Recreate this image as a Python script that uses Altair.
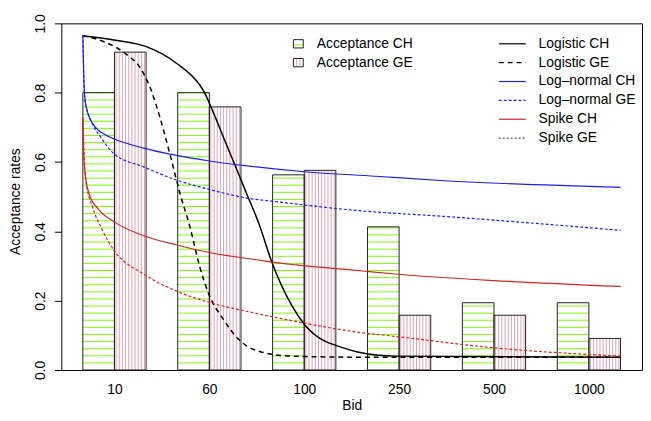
import altair as alt
import pandas as pd
import numpy as np

# ---------------- data ----------------
bids = ["10", "60", "100", "250", "500", "1000"]
accept_ch = [0.800, 0.800, 0.563, 0.413, 0.194, 0.194]
accept_ge = [0.917, 0.759, 0.576, 0.158, 0.158, 0.091]

# fitted curves, x in bar-position units (bars span 1..18)
logistic_ch_x = [1.0, 1.98, 3.03, 3.96, 4.69, 4.85, 5.0, 5.52, 6.04, 6.15, 6.56, 6.98, 7.60, 8.02, 8.65, 9.0, 9.69, 10.87, 18.0]
logistic_ch_y = [0.964, 0.952, 0.932, 0.885, 0.823, 0.80, 0.77, 0.655, 0.54, 0.515, 0.424, 0.31, 0.187, 0.13, 0.083, 0.071, 0.052, 0.040, 0.037]

logistic_ge_x = [1.0, 1.67, 2.40, 2.82, 3.13, 3.44, 3.75, 4.07, 4.38, 4.69, 5.0, 5.42, 5.94, 6.56, 7.60, 9.69, 18.0]
logistic_ge_y = [0.964, 0.947, 0.909, 0.871, 0.814, 0.728, 0.624, 0.51, 0.415, 0.30, 0.215, 0.149, 0.087, 0.054, 0.040, 0.037, 0.037]

lognorm_ch_x = [1.0, 1.05, 1.14, 1.40, 1.67, 1.98, 2.92, 3.96, 5.0, 6.19, 8.01, 10.25, 12.43, 18.0]
lognorm_ch_y = [0.966, 0.800, 0.747, 0.700, 0.681, 0.667, 0.640, 0.619, 0.603, 0.589, 0.572, 0.559, 0.546, 0.527]

lognorm_ge_x = [1.0, 1.06, 1.26, 1.57, 1.98, 2.92, 3.96, 5.0, 6.19, 7.08, 9.69, 12.43, 18.0]
lognorm_ge_y = [0.966, 0.780, 0.719, 0.671, 0.624, 0.586, 0.548, 0.521, 0.496, 0.486, 0.460, 0.443, 0.403]

spike_ch_x = [1.0, 1.04, 1.19, 1.51, 1.98, 3.0, 4.0, 5.0, 6.5, 7.0, 7.75, 9.69, 10.87, 13.99, 18.0]
spike_ch_y = [0.728, 0.596, 0.510, 0.462, 0.428, 0.385, 0.360, 0.339, 0.318, 0.311, 0.303, 0.287, 0.277, 0.258, 0.241]

spike_ge_x = [1.0, 1.09, 1.30, 1.61, 1.98, 2.9, 4.03, 5.0, 6.5, 8.02, 9.69, 10.87, 13.99, 18.0]
spike_ge_y = [0.728, 0.548, 0.472, 0.405, 0.346, 0.278, 0.225, 0.195, 0.163, 0.135, 0.109, 0.097, 0.064, 0.040]

curve_names = ["Logistic CH", "Logistic GE", "Log–normal CH", "Log–normal GE", "Spike CH", "Spike GE"]
curve_xs = [logistic_ch_x, logistic_ge_x, lognorm_ch_x, lognorm_ge_x, spike_ch_x, spike_ge_x]
curve_ys = [logistic_ch_y, logistic_ge_y, lognorm_ch_y, lognorm_ge_y, spike_ch_y, spike_ge_y]
curve_colors = ["#000000", "#000000", "#1c1cff", "#1c1cff", "#d42424", "#d42424"]
curve_dash = [None, [5, 4], None, [3, 2], None, [3, 2]]
curve_width = [1.5, 1.5, 1.2, 1.2, 1.2, 1.2]
legend_line_colors = ["#000000", "#000000", "#1c1cff", "#1c1cff", "#d42424", "#555555"]
legend_line_dash = [None, [5, 4], None, [3, 2], None, [2, 2]]
bar_labels = ["Acceptance CH", "Acceptance GE"]

FONT = "Liberation Sans"
GREEN = "#7CFC00"
PINK = "#E3A3B3"

# ---------------- tables ----------------
bars = []
for g, b in enumerate(bids):
    bars.append({"bid": b, "grp": "CH", "x": 1 + 3 * g, "x2": 2 + 3 * g, "v": accept_ch[g]})
    bars.append({"bid": b, "grp": "GE", "x": 2 + 3 * g, "x2": 3 + 3 * g, "v": accept_ge[g]})
bars_df = pd.DataFrame(bars)

hh = []  # horizontal hatch (CH)
hv = []  # vertical hatch (GE)
sp = 0.0205
for r in bars:
    if r["grp"] == "CH":
        for yy in np.arange(sp, r["v"], sp):
            hh.append({"x": r["x"], "x2": r["x2"], "y": float(yy)})
    else:
        for k in range(10):
            hv.append({"x": r["x"] + 0.05 + 0.1 * k, "y": 0.0, "y2": r["v"]})
hh_df = pd.DataFrame(hh)
hv_df = pd.DataFrame(hv)

xs = alt.Scale(domain=[0.32, 18.68], nice=False, zero=False)
ys = alt.Scale(domain=[0, 1], nice=False, zero=False)

label_expr = "[" + ",".join("'%s'" % b for b in bids) + "][round((datum.value-2)/3)]"

x_axis = alt.Axis(values=[2, 5, 8, 11, 14, 17], labelExpr=label_expr, ticks=False, tickSize=0,
                  domain=False, grid=False, labelPadding=24, labelBaseline="alphabetic",
                  labelFlush=False, labelOverlap=False, labelFontSize=14, labelFont=FONT,
                  labelColor="black", title="Bid", titleY=40, titleBaseline="alphabetic",
                  titleFontWeight="normal", titleFontSize=14, titleFont=FONT, titleColor="black")
y_axis = alt.Axis(values=[0, 0.2, 0.4, 0.6, 0.8, 1.0], format=".1f", labelAngle=270,
                  labelAlign="center", labelBaseline="alphabetic", labelPadding=10, tickSize=7,
                  tickColor="black", tickWidth=1, domain=False, grid=False, labelFlush=False,
                  labelOverlap=False, labelFontSize=14, labelFont=FONT, labelColor="black",
                  title="Acceptance rates", titleAngle=270, titleX=-42.5, titleY=180,
                  titleAlign="center", titleBaseline="alphabetic", titleFontWeight="normal",
                  titleFontSize=14, titleFont=FONT, titleColor="black")


def X(f):
    return alt.X(f, scale=xs, axis=x_axis)


def Y(f):
    return alt.Y(f, scale=ys, axis=y_axis)


hatch_h = alt.Chart(hh_df).mark_rule(color=GREEN, strokeWidth=1).encode(
    x=X("x:Q"), x2="x2:Q", y=Y("y:Q"))
hatch_v = alt.Chart(hv_df).mark_rule(color=PINK, strokeWidth=1).encode(
    x=X("x:Q"), y=Y("y:Q"), y2="y2:Q")
outlines = alt.Chart(bars_df).mark_rect(fillOpacity=0, fill="white", stroke="#222222", strokeWidth=1).encode(
    x=X("x:Q"), x2="x2:Q", y=Y("v:Q"), y2=alt.datum(0))

layers = [hatch_h, hatch_v, outlines]

for name, cx, cy, col, dash, w in zip(curve_names, curve_xs, curve_ys, curve_colors, curve_dash, curve_width):
    df = pd.DataFrame({"x": cx, "y": cy, "name": name})
    kw = dict(color=col, strokeWidth=w, interpolate="monotone")
    if dash:
        kw["strokeDash"] = dash
    layers.append(alt.Chart(df).mark_line(**kw).encode(x=X("x:Q"), y=Y("y:Q")))

# ---------------- legends (drawn manually) ----------------
row0, step = 41.7 - 21, 19.1
for i, lab in enumerate(bar_labels):
    yc = row0 + step * i
    dfl = pd.DataFrame({"label": [lab]})
    if i == 0:
        layers.append(alt.Chart(dfl).mark_rule(color=GREEN, strokeWidth=1).encode(
            x=alt.value(235), x2=alt.value(245), y=alt.value(yc + 1.2)))
    else:
        for xx in (238.3, 241.6):
            layers.append(alt.Chart(dfl).mark_rule(color=PINK, strokeWidth=1).encode(
                x=alt.value(xx), y=alt.value(yc - 4.2), y2=alt.value(yc + 4.2)))
    layers.append(alt.Chart(dfl).mark_rect(fillOpacity=0, stroke="#222222", strokeWidth=1).encode(
        x=alt.value(235), x2=alt.value(245), y=alt.value(yc - 4.2), y2=alt.value(yc + 4.2)))
    layers.append(alt.Chart(dfl).mark_text(align="left", baseline="middle", font=FONT, fontSize=14,
                                           color="black").encode(
        x=alt.value(258.7), y=alt.value(yc), text="label:N"))

for i, (lab, col, dash) in enumerate(zip(curve_names, legend_line_colors, legend_line_dash)):
    yc = row0 + step * i
    dfl = pd.DataFrame({"label": [lab]})
    kw = dict(color=col, strokeWidth=1.2)
    if dash:
        kw["strokeDash"] = dash
    layers.append(alt.Chart(dfl).mark_rule(**kw).encode(
        x=alt.value(443), x2=alt.value(470.3), y=alt.value(yc)))
    layers.append(alt.Chart(dfl).mark_text(align="left", baseline="middle", font=FONT, fontSize=14,
                                           color="black").encode(
        x=alt.value(483.3), y=alt.value(yc), text="label:N"))

chart = alt.layer(*layers).properties(
    width=588, height=351,
    autosize=alt.AutoSizeParams(type="none"),
    padding={"left": 54, "top": 13, "right": 1, "bottom": 41},
).configure_view(stroke="black", strokeWidth=1)

chart.save("out.html", embed_options={"renderer": "svg", "actions": False})
